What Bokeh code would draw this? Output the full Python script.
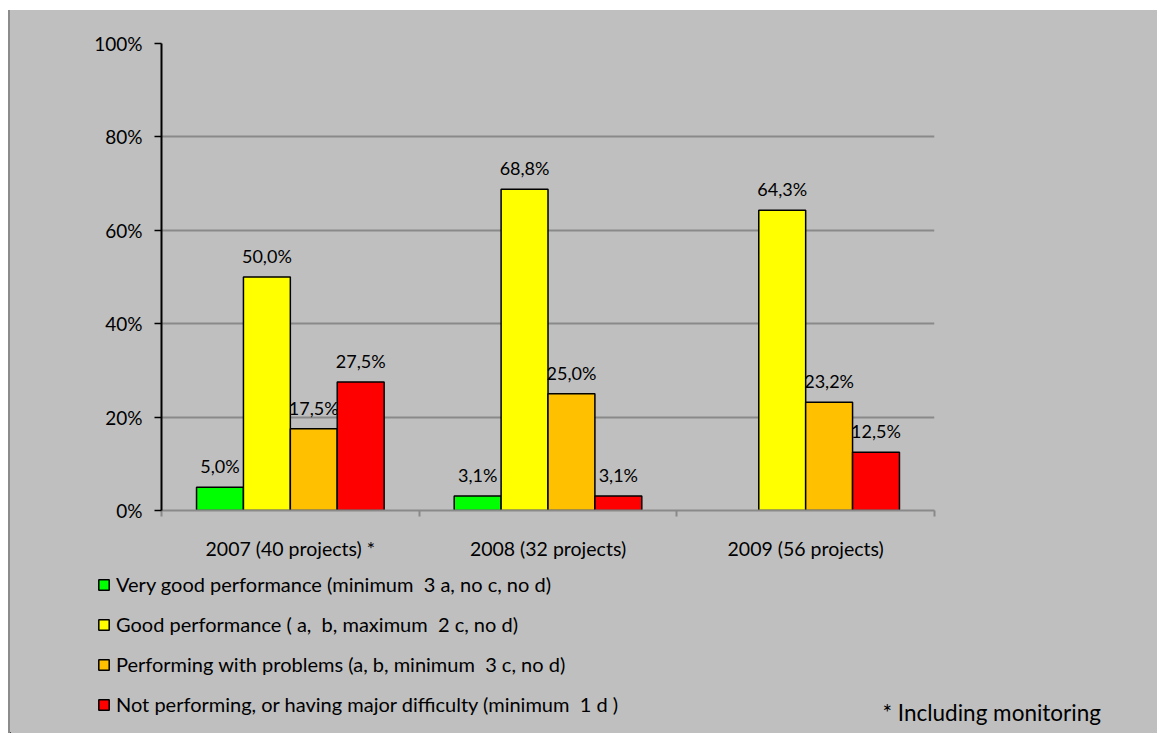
from bokeh.plotting import figure
from bokeh.layouts import column
from bokeh.models import (ColumnDataSource, CDSView, BooleanFilter, FixedTicker, PrintfTickFormatter,
                          Legend, LegendItem, Label, Range1d)
from bokeh.core.properties import value
from bokeh.embed import file_html
from bokeh.resources import INLINE

categories = ["2007 (40 projects) *", "2008 (32 projects)", "2009 (56 projects)"]
series_names = [
    "Very good performance (minimum  3 a, no c, no d)",
    "Good performance ( a,  b, maximum  2 c, no d)",
    "Performing with problems (a, b, minimum  3 c, no d)",
    "Not performing, or having major difficulty (minimum  1 d )",
]
very_good = [5.0, 3.1, 0.0]
good = [50.0, 68.8, 64.3]
problems = [17.5, 25.0, 23.2]
not_performing = [27.5, 3.1, 12.5]
colors = ["#00FF00", "#FFFF00", "#FFC000", "#FF0000"]
y_ticks = [0, 20, 40, 60, 80, 100]
footnote = "* Including monitoring"

FONT = "Lato"
BG = "#BFBFBF"
series = [very_good, good, problems, not_performing]

p = figure(width=1147, height=560, output_backend="svg", toolbar_location=None,
           x_range=Range1d(0, 3), y_range=Range1d(0, 100),
           min_border_left=151, min_border_right=223, min_border_top=33, min_border_bottom=60)
p.background_fill_color = None
p.border_fill_color = BG
p.outline_line_color = None

bar_w = 0.182
offsets = [-1.5 * bar_w, -0.5 * bar_w, 0.5 * bar_w, 1.5 * bar_w]
sources = []
for vals, col, off in zip(series, colors, offsets):
    xs = [k + 0.5 + off for k in range(len(categories))]
    src = ColumnDataSource(dict(x=xs, top=vals))
    sources.append(src)
    view = CDSView(filter=BooleanFilter([v > 0 for v in vals]))
    p.vbar(x="x", top="top", width=bar_w, source=src, view=view, fill_color=col,
           line_color="black", line_width=1.5)
    lx = [x for x, v in zip(xs, vals) if v > 0]
    ly = [v for v in vals if v > 0]
    lt = [f"{v:.1f}".replace(".", ",") + "%" for v in vals if v > 0]
    lsrc = ColumnDataSource(dict(x=lx, y=ly, t=lt))
    p.text(x="x", y="y", text="t", source=lsrc, text_align="center", text_baseline="bottom",
           y_offset=-10, text_font=value(FONT), text_font_size="18px", text_color="black")

p.xgrid.visible = False
p.ygrid.grid_line_color = "#898989"
p.ygrid.grid_line_width = 2
p.yaxis.ticker = FixedTicker(ticks=y_ticks)
p.yaxis.formatter = PrintfTickFormatter(format="%d%%")
p.yaxis.axis_line_color = "black"
p.yaxis.axis_line_width = 2
p.yaxis.major_tick_line_color = "black"
p.yaxis.major_tick_line_width = 1.5
p.yaxis.major_tick_out = 7
p.yaxis.major_tick_in = 0
p.yaxis.minor_tick_line_color = None
p.yaxis.major_label_standoff = 12
p.yaxis.major_label_text_font = FONT
p.yaxis.major_label_text_font_size = "19px"
p.yaxis.major_label_text_color = "black"

p.xaxis.ticker = FixedTicker(ticks=[0.5, 1.5, 2.5], minor_ticks=[0, 1, 2, 3])
p.xaxis.major_label_overrides = {0.5: categories[0], 1.5: categories[1], 2.5: categories[2]}
p.xaxis.axis_line_color = "#898989"
p.xaxis.axis_line_width = 2
p.xaxis.major_tick_line_color = None
p.xaxis.major_tick_out = 0
p.xaxis.major_tick_in = 0
p.xaxis.minor_tick_line_color = "#898989"
p.xaxis.minor_tick_line_width = 2
p.xaxis.minor_tick_out = 6
p.xaxis.minor_tick_in = 0
p.xaxis.major_label_standoff = 20
p.xaxis.major_label_text_font = FONT
p.xaxis.major_label_text_font_size = "19.5px"
p.xaxis.major_label_text_color = "black"

# bottom panel: legend and footnote (bars of the same sources, kept out of view)
q = figure(width=1147, height=163, output_backend="svg", toolbar_location=None,
           x_range=Range1d(10, 11), y_range=Range1d(1000, 1001), x_axis_type=None, y_axis_type=None,
           min_border=0)
q.background_fill_color = None
q.border_fill_color = BG
q.outline_line_color = None
for pl in (p, q):
    try:
        pl.frame_align = False
    except AttributeError:
        pass
swatches = [q.vbar(x="x", top="top", width=bar_w, source=s, fill_color=c, line_color="black",
                   line_width=1.5) for s, c in zip(sources, colors)]

legend = Legend(items=[LegendItem(label=n, renderers=[r]) for n, r in zip(series_names, swatches)],
                location=(87, 17), orientation="vertical")
legend.background_fill_alpha = 0
legend.border_line_color = None
legend.padding = 0
legend.margin = 0
legend.glyph_width = 13
legend.glyph_height = 13
legend.label_standoff = 6
legend.spacing = 16
legend.label_text_font = FONT
legend.label_text_font_size = "20px"
legend.label_text_color = "black"
legend.label_height = 22
q.add_layout(legend)

q.add_layout(Label(x=872, y=21, x_units="screen", y_units="screen", text=footnote,
                   text_font=FONT, text_font_size="22.5px", text_baseline="middle", text_color="black"))

layout = column(p, q, spacing=0)
layout.margin = (10, 0, 0, 8)
layout.styles = {"border-left": "2px solid #8C8C8C", "background-color": BG}

open("out.html", "w").write(file_html(layout, INLINE))
